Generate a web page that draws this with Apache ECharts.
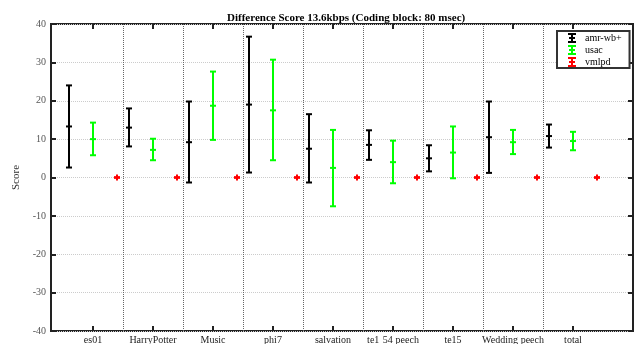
<!DOCTYPE html>
<html><head><meta charset="utf-8">
<script src="https://cdn.jsdelivr.net/npm/echarts@6/dist/echarts.min.js"></script>
<style>html,body{margin:0;padding:0;background:#fff}#c{width:641px;height:344px}</style>
</head><body><div id="c"></div>
<script>
var categories = ['es01','HarryPotter','Music','phi7','salvation','te1_g54_speech','te15','Wedding_speech','total'];
var amrMean = [13.3,13.0,9.2,19.0,7.5,8.5,5.0,10.5,10.8];
var amrLow  = [2.6,8.1,-1.3,1.3,-1.3,4.6,1.6,1.2,7.8];
var amrHigh = [24.0,18.0,19.8,36.7,16.5,12.3,8.4,19.8,13.8];
var usacMean = [10.0,7.2,18.7,17.5,2.5,4.0,6.5,9.2,9.5];
var usacLow  = [5.8,4.5,9.8,4.5,-7.5,-1.5,-0.2,6.1,7.1];
var usacHigh = [14.3,10.1,27.6,30.7,12.4,9.6,13.3,12.4,11.9];
var vmlpdMean = [0,0,0,0,0,0,0,0,0];
var vmlpdLow  = [0,0,0,0,0,0,0,0,0];
var vmlpdHigh = [0,0,0,0,0,0,0,0,0];
var yTicks = [-40,-30,-20,-10,0,10,20,30,40];

var FONT = 'Liberation Serif';
var catPos = categories.map(function(c,i){return i+1;});
var sepPos = categories.slice(0,-1).map(function(c,i){return i+1.5;});

function build(mean, low, high, off){
  return categories.map(function(c,i){return [i+1+off, low[i], high[i], mean[i]];});
}
function renderBar(params, api){
  var x = api.value(0);
  var pl = api.coord([x, api.value(1)]);
  var ph = api.coord([x, api.value(2)]);
  var pm = api.coord([x, api.value(3)]);
  var col = api.visual('color');
  var st = {stroke: col, lineWidth: 2, fill: null};
  var hw = 3;
  var ch = [
    {type:'line', shape:{x1:pl[0], y1:ph[1], x2:pl[0], y2:pl[1]}, style:st},
    {type:'line', shape:{x1:pm[0], y1:pm[1]-3, x2:pm[0], y2:pm[1]+3}, style:st},
    {type:'line', shape:{x1:ph[0]-hw, y1:ph[1], x2:ph[0]+hw, y2:ph[1]}, style:st},
    {type:'line', shape:{x1:pl[0]-hw, y1:pl[1], x2:pl[0]+hw, y2:pl[1]}, style:st},
    {type:'line', shape:{x1:pm[0]-hw, y1:pm[1], x2:pm[0]+hw, y2:pm[1]}, style:st}
  ];
  return {type:'group', children: ch};
}
var icon = 'path://M0,0H8V2H5V8H8V10H0V8H3V2H0Z M1,4H7V6H1Z';

function labelFmt(v){
  var idx = Math.round(v) - 1;
  var s = categories[idx] || '';
  var parts = s.split('_');
  var out = '{n|' + parts[0] + '}';
  for (var k=1;k<parts.length;k++){
    out += '{sub|' + parts[k].charAt(0) + '}';
    if (parts[k].length > 1) out += '{n|' + parts[k].slice(1) + '}';
  }
  return out;
}

var chart = echarts.init(document.getElementById('c'), null, {renderer:'canvas'});
chart.setOption({
  animation:false,
  backgroundColor:'#fff',
  title:{text:'Difference Score 13.6kbps (Coding block: 80 msec)', left:222, top:8,
    textStyle:{fontFamily:FONT, fontSize:11, fontWeight:'bold', color:'#000'}},
  legend:{orient:'vertical', left:557, top:31, padding:[2,8,1,11], itemGap:2, itemWidth:8, itemHeight:10,
    borderColor:'#333', borderWidth:2, backgroundColor:'#fff',
    textStyle:{fontFamily:FONT, fontSize:10, color:'#000', padding:[0,0,0,4]},
    data:[{name:'amr-wb+',icon:icon},{name:'usac',icon:icon},{name:'vmlpd',icon:icon}]},
  grid:{left:51, right:8, top:24, bottom:13, outerBoundsMode:'none', containLabel:false,
    show:true, borderColor:'#222', borderWidth:2, backgroundColor:'transparent'},
  xAxis:[{type:'value', min:0.3, max:10, position:'bottom',
      axisLine:{show:false, onZero:false}, splitLine:{show:false},
      axisTick:{show:true, inside:true, length:5, customValues:catPos, lineStyle:{color:'#222', width:2}},
      axisLabel:{show:true, customValues:catPos, formatter:labelFmt, margin:8,
        fontFamily:FONT, fontSize:10, color:'#222',
        rich:{
          n:{fontFamily:FONT, fontSize:10, color:'#222', lineHeight:12, height:12, padding:[0,0,10,0]},
          sub:{fontFamily:FONT, fontSize:7, color:'#222', lineHeight:8, height:8, padding:[14,0,0,0]}}}},
    {type:'value', min:0.3, max:10, position:'top',
      axisLine:{show:false, onZero:false}, splitLine:{show:false}, axisLabel:{show:false},
      axisTick:{show:true, inside:true, length:5, customValues:catPos, lineStyle:{color:'#222', width:2}}}],
  yAxis:[{type:'value', min:-40, max:40, interval:10, name:'Score', nameLocation:'middle', nameGap:24,
      nameTextStyle:{fontFamily:FONT, fontSize:11, color:'#333'},
      axisLine:{show:false, onZero:false},
      axisTick:{show:true, inside:true, length:5, lineStyle:{color:'#222', width:2}},
      axisLabel:{fontFamily:FONT, fontSize:10, color:'#555', margin:5},
      splitLine:{show:true, lineStyle:{color:'#ccc', type:'dotted', width:1}}},
    {type:'value', min:-40, max:40, interval:10, position:'right',
      axisLine:{show:false, onZero:false}, axisLabel:{show:false}, splitLine:{show:false},
      axisTick:{show:true, inside:true, length:5, lineStyle:{color:'#222', width:2}}}],
  series:[
    {name:'amr-wb+', type:'custom', renderItem:renderBar, itemStyle:{color:'#000'},
      encode:{x:0, y:[1,2,3]}, data:build(amrMean, amrLow, amrHigh, -0.4), z:5,
      markLine:{silent:true, symbol:'none', label:{show:false},
        lineStyle:{type:'dotted', color:'#666', width:1},
        data: sepPos.map(function(v){return {xAxis:v};})}},
    {name:'usac', type:'custom', renderItem:renderBar, itemStyle:{color:'#00ff00'},
      encode:{x:0, y:[1,2,3]}, data:build(usacMean, usacLow, usacHigh, 0), z:5},
    {name:'vmlpd', type:'custom', renderItem:renderBar, itemStyle:{color:'#ff0000'},
      encode:{x:0, y:[1,2,3]}, data:build(vmlpdMean, vmlpdLow, vmlpdHigh, 0.4), z:5}
  ]
});
</script></body></html>
